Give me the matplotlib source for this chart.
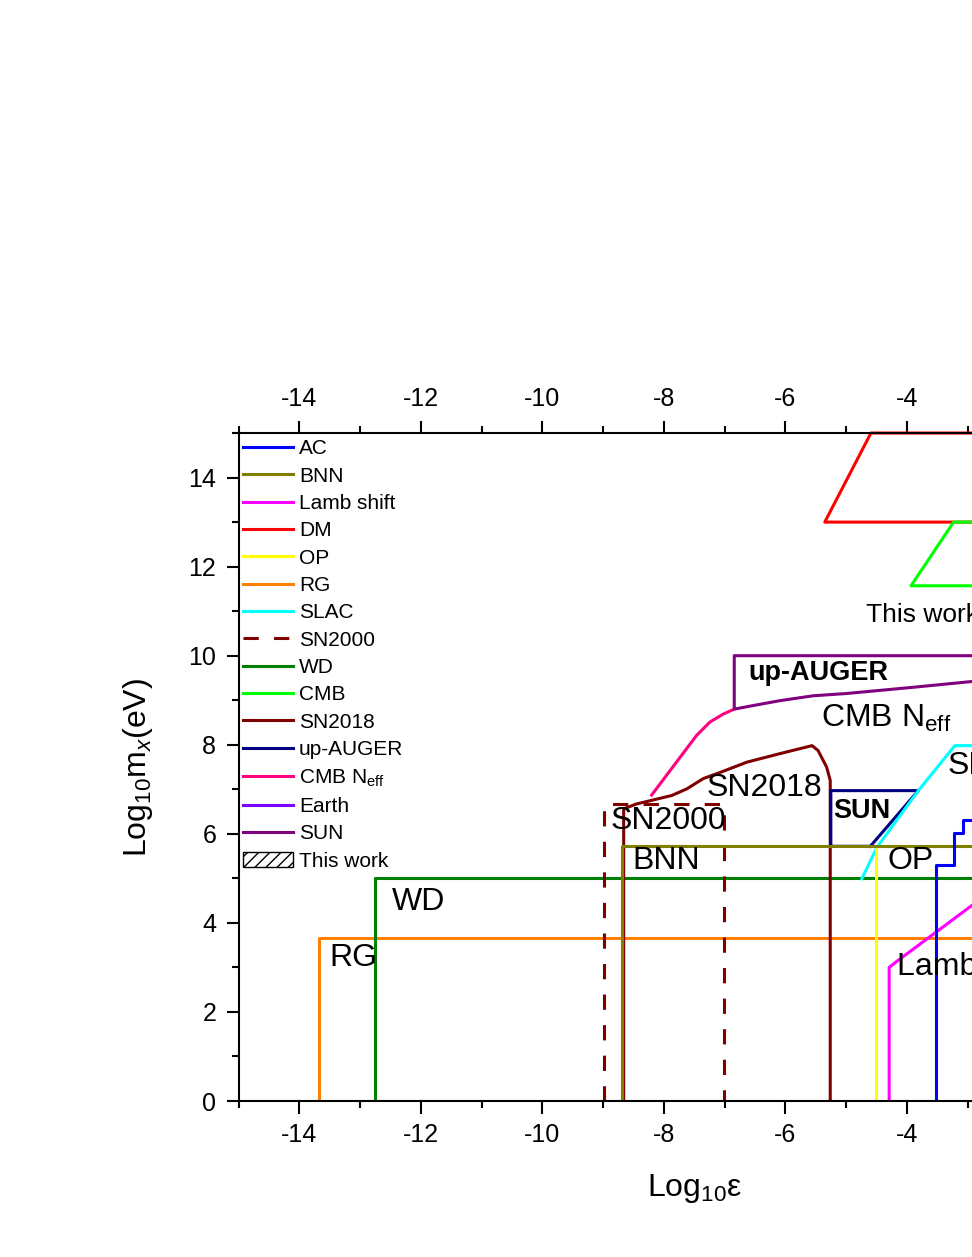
import matplotlib
matplotlib.use("Agg")
import matplotlib.pyplot as plt
from matplotlib.lines import Line2D
from matplotlib.patches import Patch
from matplotlib.ticker import MultipleLocator

plt.rcParams['font.family'] = ['Liberation Sans', 'DejaVu Sans']
plt.rcParams['mathtext.fontset'] = 'custom'
plt.rcParams['mathtext.rm'] = 'Liberation Sans'
plt.rcParams['mathtext.it'] = 'Liberation Sans:italic'
plt.rcParams['axes.unicode_minus'] = False

# bounds: x = log10(eps), y = log10(m_x / eV)
rg_x = [-13.68, -13.68, 0.0]
rg_y = [0.0, 3.65, 3.65]
wd_x = [-12.75, -12.75, 0.0]
wd_y = [0.0, 5.0, 5.0]
sn2000_x = [-8.98, -8.98, -7.01, -7.01]
sn2000_y = [0.0, 6.68, 6.68, 0.0]
bnn_x = [-8.69, -8.69, 0.0]
bnn_y = [0.0, 5.72, 5.72]
sn2018_x = [-8.66, -8.66, -8.45, -7.87, -7.62, -7.35, -7.07, -6.63, -6.09,
            -5.56, -5.46, -5.32, -5.26, -5.26]
sn2018_y = [0.0, 6.56, 6.67, 6.86, 7.01, 7.24, 7.38, 7.61, 7.80,
            7.98, 7.87, 7.50, 7.20, 0.0]
neff_x = [-8.20, -7.46, -7.24, -7.02, -6.84]
neff_y = [6.87, 8.21, 8.51, 8.69, 8.80]
sun_x = [0.0, -6.84, -6.84, -6.53, -6.09, -5.54, -5.0, -3.90, -2.93, -2.0, 0.0]
sun_y = [10.0, 10.0, 8.80, 8.88, 8.99, 9.10, 9.15, 9.29, 9.42, 9.52, 9.70]
auger_x = [-4.60, -5.25, -5.25, -3.81, -4.60]
auger_y = [5.72, 5.72, 6.97, 6.97, 5.72]
slac_x = [-4.74, -4.49, -3.81, -3.21, 0.0]
slac_y = [4.99, 5.70, 6.97, 7.98, 7.98]
op_x = [-4.51, -4.51, 0.0]
op_y = [0.0, 5.72, 5.72]
lamb_x = [-4.29, -4.29, -4.17, -2.93, -1.5]
lamb_y = [0.0, 3.0, 3.13, 4.39, 5.85]
ac_x = [-3.52, -3.52, -3.23, -3.23, -3.08, -3.08, -2.9, -2.9, -2.7, -2.7, 0.0]
ac_y = [0.0, 5.29, 5.29, 6.02, 6.02, 6.30, 6.30, 6.6, 6.6, 6.9, 6.9]
dm_x = [0.0, -5.35, -4.59, 0.0]
dm_y = [13.0, 13.0, 15.0, 15.0]
cmb_x = [0.0, -3.93, -3.23, 0.0]
cmb_y = [11.57, 11.57, 13.0, 13.0]

fig = plt.figure(figsize=(9.72, 12.57), dpi=100)
ax = fig.add_axes([0.2454, 0.1241, 0.9375, 0.5314])

lw = 2.2
ax.plot(rg_x, rg_y, color='#FF8000', lw=lw)
ax.plot(wd_x, wd_y, color='#008000', lw=lw)
ax.plot(sn2000_x, sn2000_y, color='#800000', lw=lw, ls=(0, (5, 5)))
ax.plot(sn2018_x, sn2018_y, color='#800000', lw=lw)
ax.plot(neff_x, neff_y, color='#FF0080', lw=lw)
ax.plot(sun_x, sun_y, color='#800080', lw=lw)
ax.plot(auger_x, auger_y, color='#000080', lw=lw)
ax.plot(slac_x, slac_y, color='#00FFFF', lw=lw)
ax.plot(op_x, op_y, color='#FFFF00', lw=lw)
ax.plot(bnn_x, bnn_y, color='#808000', lw=lw)
ax.plot(lamb_x, lamb_y, color='#FF00FF', lw=lw)
ax.plot(ac_x, ac_y, color='#0000FF', lw=lw)
ax.plot(dm_x, dm_y, color='#FF0000', lw=lw, clip_on=False)
ax.plot(cmb_x, cmb_y, color='#00FF00', lw=lw)

big = 23
ax.text(-13.51, 3.21, 'RG', fontsize=big, va='center')
ax.text(-12.47, 4.46, 'WD', fontsize=big, va='center')
ax.text(-8.88, 6.28, 'SN2000', fontsize=big, va='center')
ax.text(-8.51, 5.38, 'BNN', fontsize=big, va='center')
ax.text(-7.30, 7.04, 'SN2018', fontsize=big, va='center')
ax.text(-6.61, 9.62, 'up-AUGER', fontsize=19.5, fontweight='bold', va='center')
ax.text(-5.41, 8.39, r'CMB N$_\mathrm{eff}$', fontsize=big, va='baseline')
ax.text(-5.21, 6.52, 'SUN', fontsize=19.5, fontweight='bold', va='center')
ax.text(-4.31, 5.40, 'OP', fontsize=big, va='center')
ax.text(-4.16, 3.0, 'Lamb shift', fontsize=big, va='center')
ax.text(-3.33, 7.53, 'SLAC', fontsize=big, va='center')
ax.text(-4.67, 10.92, 'This work', fontsize=19, va='center')

ax.set_xlim(-15, 0)
ax.set_ylim(0, 15)
ax.xaxis.set_major_locator(MultipleLocator(2))
ax.xaxis.set_minor_locator(MultipleLocator(1))
ax.yaxis.set_major_locator(MultipleLocator(2))
ax.yaxis.set_minor_locator(MultipleLocator(1))
ax.tick_params(which='both', direction='out', width=1.5, top=True, labeltop=True,
               labelsize=18, pad=7)
ax.tick_params(which='major', length=9)
ax.tick_params(which='minor', length=5)
for s in ax.spines.values():
    s.set_linewidth(1.5)

ax.set_xlabel(r'Log$_{10}$ε', fontsize=23, labelpad=18)
ax.set_ylabel(r'Log$_{10}$m$_x$(eV)', fontsize=23, labelpad=24)

names = ['AC', 'BNN', 'Lamb shift', 'DM', 'OP', 'RG', 'SLAC', 'SN2000', 'WD', 'CMB',
         'SN2018', 'up-AUGER', r'CMB N$_\mathrm{eff}$', 'Earth', 'SUN']
colors = ['#0000FF', '#808000', '#FF00FF', '#FF0000', '#FFFF00', '#FF8000', '#00FFFF',
          '#800000', '#008000', '#00FF00', '#800000', '#000080', '#FF0080', '#8000FF',
          '#800080']
handles = []
for n, c in zip(names, colors):
    ls = (0, (5, 5)) if n == 'SN2000' else '-'
    handles.append(Line2D([], [], color=c, lw=lw, ls=ls))
handles.append(Patch(facecolor='white', edgecolor='black', hatch='///'))
labels = names + ['This work']
ax.legend(handles, labels, loc='upper left', bbox_to_anchor=(0.0, 0.997),
          frameon=False, fontsize=15, handlelength=2.4, handletextpad=0.3,
          labelspacing=0.4, borderpad=0.1, borderaxespad=0.1)

fig.savefig('out.png', dpi=100)
